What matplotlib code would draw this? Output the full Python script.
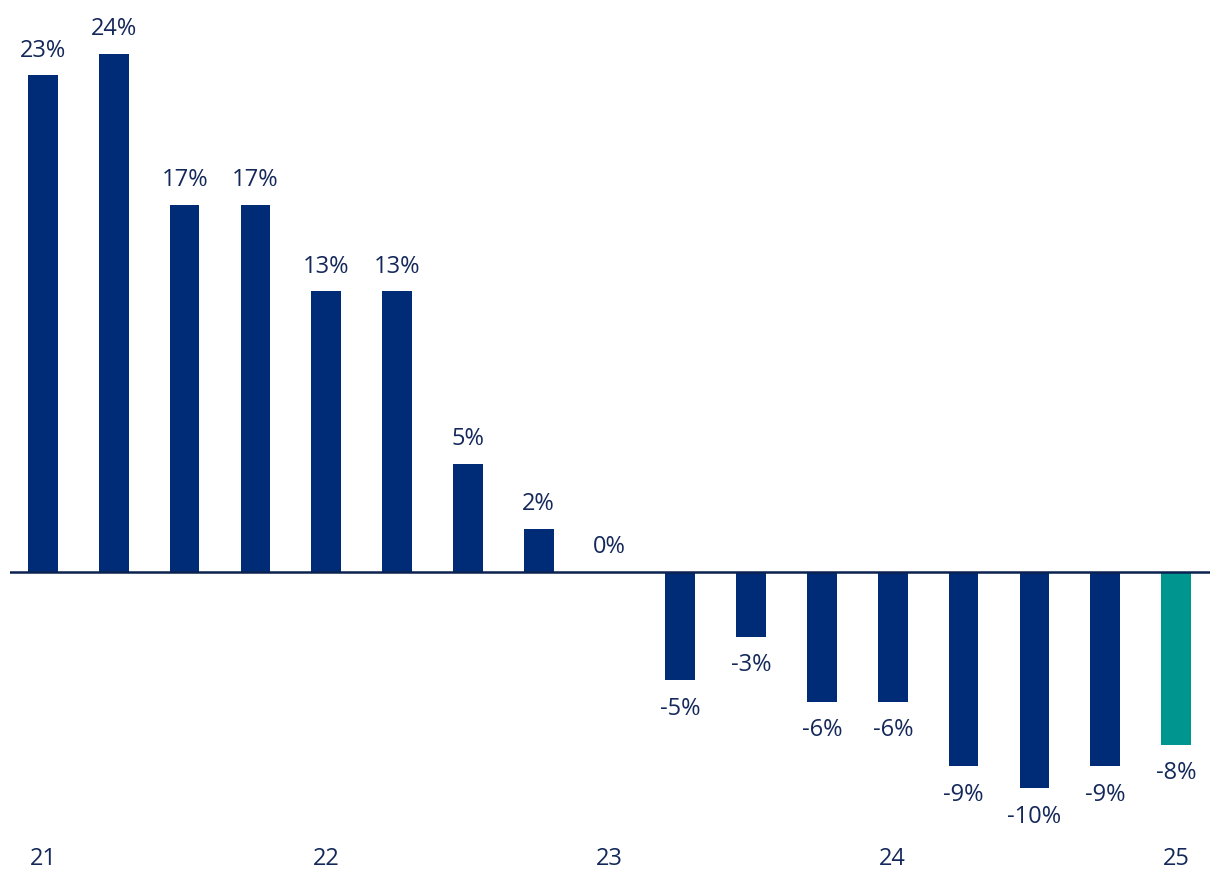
import matplotlib.pyplot as plt
import numpy as np

plt.rcParams['font.family'] = ['Open Sans', 'DejaVu Sans']

values = [23, 24, 17, 17, 13, 13, 5, 2, 0, -5, -3, -6, -6, -9, -10, -9, -8]
tick_pos = [0, 4, 8, 12, 16]
tick_labels = ['21', '22', '23', '24', '25']

navy = '#002B76'
teal = '#00968F'
text_col = '#14285A'
colors = [navy] * (len(values) - 1) + [teal]

fig = plt.figure(figsize=(12.2, 8.96), dpi=100)
ax = fig.add_axes([10 / 1220, 0.12, 1200 / 1220, 0.88])

x = np.arange(len(values))
ax.bar(x, values, width=0.42, color=colors, zorder=2)
ax.axhline(0, color='#0B2250', lw=1.8, zorder=3)

for xi, v in zip(x, values):
    if v >= 0:
        ax.annotate(f'{v}%', (xi, v), xytext=(0, 9), textcoords='offset points',
                    ha='center', va='bottom', fontsize=17, color=text_col)
    else:
        ax.annotate(f'{v}%', (xi, v), xytext=(0, -12), textcoords='offset points',
                    ha='center', va='top', fontsize=17, color=text_col)

ax.set_xlim(-0.466, 16.48)
ax.set_ylim(-(788.5 - 572) / 21.6, 572 / 21.6)
ax.set_xticks(tick_pos)
ax.set_xticklabels(tick_labels, fontsize=17, color=text_col)
ax.tick_params(axis='x', length=0, pad=42)
ax.set_yticks([])
for s in ax.spines.values():
    s.set_visible(False)

fig.savefig('out.png', dpi=100)
